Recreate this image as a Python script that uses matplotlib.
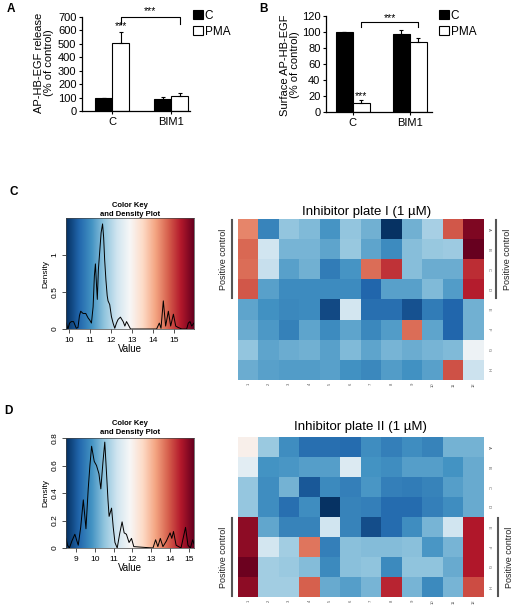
import matplotlib
matplotlib.use('Agg')
import matplotlib.pyplot as plt
import numpy as np

plt.rcParams['font.family'] = ['Liberation Sans', 'DejaVu Sans']

# ---------------- data ----------------
groups = ['C', 'BIM1']
series = ['C', 'PMA']

A_ctrl = [100, 88]
A_ctrl_err = [0, 14]
A_pma = [505, 112]
A_pma_err = [85, 24]

B_ctrl = [100, 98]
B_ctrl_err = [0, 5]
B_pma = [11, 87]
B_pma_err = [4, 5]

rows = ['A', 'B', 'C', 'D', 'E', 'F', 'G', 'H']
cols = [str(i) for i in range(1, 13)]

plate_I = [
    [14.4, 10.9, 11.7, 11.55, 11.1, 11.7, 11.45, 9.9, 11.45, 11.9, 14.8, 15.75],
    [14.65, 12.3, 11.5, 11.5, 11.3, 11.75, 11.3, 11.0, 11.6, 11.75, 11.8, 15.95],
    [14.6, 12.2, 11.25, 11.45, 10.77, 11.1, 14.6, 15.1, 11.6, 11.4, 11.4, 15.15],
    [14.8, 11.25, 11.0, 11.0, 11.0, 11.0, 10.5, 11.25, 11.25, 11.55, 11.2, 15.3],
    [11.3, 11.05, 10.95, 11.0, 10.15, 12.35, 10.6, 10.6, 10.25, 10.77, 10.5, 11.45],
    [11.4, 11.15, 10.85, 11.3, 11.0, 11.3, 10.95, 11.2, 14.6, 11.3, 10.5, 11.45],
    [11.7, 11.3, 11.4, 11.45, 11.25, 11.55, 11.3, 11.5, 11.4, 11.5, 11.55, 12.75],
    [11.4, 11.25, 11.2, 11.2, 11.25, 11.05, 10.95, 11.2, 11.05, 11.25, 14.85, 12.25],
]
plate_II = [
    [12.05, 10.6, 9.75, 9.3, 9.3, 9.25, 9.75, 9.55, 9.75, 9.6, 10.25, 10.25],
    [11.5, 9.85, 9.9, 10.0, 10.0, 11.4, 9.85, 9.75, 10.0, 10.0, 9.85, 10.15],
    [10.55, 9.75, 10.25, 9.0, 9.7, 9.55, 9.9, 9.55, 9.5, 9.6, 10.0, 10.15],
    [10.55, 9.75, 9.3, 9.75, 8.5, 9.6, 9.55, 9.25, 9.25, 9.55, 9.75, 10.15],
    [14.9, 10.1, 9.6, 9.6, 11.2, 9.6, 8.85, 9.25, 9.75, 10.3, 11.2, 14.6],
    [14.9, 11.25, 10.7, 13.7, 9.55, 10.45, 10.4, 10.4, 10.45, 9.9, 10.3, 14.6],
    [15.2, 10.7, 10.6, 10.4, 9.7, 10.45, 10.5, 9.7, 10.5, 10.5, 10.15, 14.6],
    [14.9, 10.7, 10.7, 13.9, 10.15, 10.0, 10.3, 14.45, 10.3, 9.7, 10.3, 14.1],
]
range_I = (9.86, 15.95)
range_II = (8.47, 15.27)

density_I = [(9.87, 0.08), (9.95, 0.0), (10.03, 0.08), (10.11, 0.1), (10.22, 0.1),
             (10.35, 0.01), (10.43, 0.02), (10.5, 0.18), (10.56, 0.24), (10.67, 0.21),
             (10.8, 0.21), (10.91, 0.15), (10.99, 0.12), (11.07, 0.08), (11.15, 0.3),
             (11.21, 0.72), (11.26, 0.88), (11.31, 0.6), (11.35, 0.4), (11.4, 0.8),
             (11.46, 1.03), (11.53, 1.3), (11.6, 1.42), (11.65, 1.24), (11.7, 0.93),
             (11.76, 0.66), (11.82, 0.45), (11.86, 0.38), (11.94, 0.33), (12.02, 0.17),
             (12.1, 0.08), (12.18, 0.01), (12.26, 0.08), (12.34, 0.13), (12.45, 0.16),
             (12.58, 0.1), (12.66, 0.04), (12.74, 0.1), (12.82, 0.06), (12.93, 0.0),
             (14.17, 0.0), (14.3, 0.08), (14.38, 0.01), (14.49, 0.38), (14.6, 0.04),
             (14.73, 0.24), (14.84, 0.04), (14.97, 0.2), (15.08, 0.04), (15.2, 0.02),
             (15.37, 0.0), (15.6, 0.0), (15.68, 0.08), (15.76, 0.1), (15.84, 0.04),
             (15.95, 0.08)]
density_II = [(8.47, 0.07), (8.55, 0.02), (8.65, 0.0), (8.78, 0.05), (8.94, 0.1),
              (9.12, 0.02), (9.25, 0.15), (9.39, 0.35), (9.53, 0.14), (9.65, 0.43),
              (9.74, 0.6), (9.83, 0.74), (9.97, 0.63), (10.09, 0.6), (10.22, 0.54),
              (10.32, 0.43), (10.43, 0.62), (10.53, 0.77), (10.62, 0.55), (10.7, 0.35),
              (10.76, 0.23), (10.89, 0.29), (10.98, 0.15), (11.07, 0.04), (11.19, 0.0),
              (11.33, 0.11), (11.45, 0.19), (11.56, 0.11), (11.68, 0.1), (11.82, 0.04),
              (11.95, 0.07), (12.07, 0.01), (13.09, 0.0), (13.23, 0.06), (13.35, 0.01),
              (13.48, 0.07), (13.62, 0.01), (13.8, 0.05), (14.0, 0.11), (14.09, 0.07),
              (14.18, 0.12), (14.32, 0.02), (14.58, 0.0), (14.82, 0.15), (14.95, 0.02),
              (15.08, 0.0), (15.2, 0.06), (15.27, 0.03)]

# ---------------- figure ----------------
W, H = 512, 606
fig = plt.figure(figsize=(W / 100, H / 100), dpi=100)


def px_axes(l, t, r, b):
    return fig.add_axes([l / W, 1 - b / H, (r - l) / W, (b - t) / H])


def bar_panel(ax, ctrl, cerr, pma, perr, ylim, yticks, xlim, width, legend_anchor):
    x = np.arange(len(groups))
    ekw = dict(elinewidth=0.8, capthick=0.8, ecolor='black')
    b1 = ax.bar(x - width / 2, ctrl, width, color='black', edgecolor='black', lw=0.8,
                yerr=[[0] * len(ctrl), cerr], capsize=1.5, error_kw=ekw, label=series[0])
    b2 = ax.bar(x + width / 2, pma, width, color='white', edgecolor='black', lw=0.8,
                yerr=[[0] * len(pma), perr], capsize=1.5, error_kw=ekw, label=series[1])
    ax.set_xlim(*xlim)
    ax.set_ylim(*ylim)
    ax.set_yticks(yticks)
    ax.set_xticks(x)
    ax.set_xticklabels(groups)
    for s in ['top', 'right']:
        ax.spines[s].set_visible(False)
    for s in ['left', 'bottom']:
        ax.spines[s].set_linewidth(0.9)
    ax.tick_params(length=2.5, width=0.8, labelsize=8, pad=1.5)
    ax.legend(handles=[b1, b2], loc='upper left', frameon=False, fontsize=8.5,
              bbox_to_anchor=(legend_anchor[0] / W, 1 - legend_anchor[1] / H),
              bbox_transform=fig.transFigure, borderaxespad=0, borderpad=0,
              handlelength=0.85, handleheight=0.8, handletextpad=0.15,
              labelspacing=0.3)
    return x


# Panel A
axA = px_axes(82, 17, 190, 111)
wA = 0.288
xA = bar_panel(axA, A_ctrl, A_ctrl_err, A_pma, A_pma_err, (0, 700),
               range(0, 701, 100), (-0.51, 1.32), wA, (193, 10))
axA.text(xA[0] + wA / 2, 632, '***', ha='center', va='center', fontsize=7.5)
axA.plot([xA[0] + wA / 2, xA[0] + wA / 2, xA[1] + wA / 2, xA[1] + wA / 2],
         [650, 700, 700, 650], color='black', lw=0.8, clip_on=False)
axA.text((xA[0] + xA[1]) / 2 + wA / 2, 745, '***', ha='center', va='center',
         fontsize=7.5, clip_on=False)

# Panel B
axB = px_axes(326, 16, 432, 112)
wB = 0.30
xB = bar_panel(axB, B_ctrl, B_ctrl_err, B_pma, B_pma_err, (0, 120),
               range(0, 121, 20), (-0.47, 1.39), wB, (439, 10))
axB.text(xB[0] + wB / 2, 19.5, '***', ha='center', va='center', fontsize=7.5)
axB.plot([xB[0] + wB / 2, xB[0] + wB / 2, xB[1] + wB / 2, xB[1] + wB / 2],
         [106, 112.5, 112.5, 106], color='black', lw=0.8, clip_on=False)
axB.text((xB[0] + xB[1]) / 2 + wB / 2, 117, '***', ha='center', va='center',
         fontsize=7.5, clip_on=False)


def key_panel(ax, rng, ymax, yticks, yticklabels, xticks, dens):
    xmin, xmax = rng
    grad = np.linspace(xmin, xmax, 512).reshape(1, -1)
    ax.imshow(grad, cmap='RdBu_r', aspect='auto', extent=[xmin, xmax, 0, ymax],
              vmin=xmin, vmax=xmax, origin='lower', interpolation='bilinear')
    dx = [p[0] for p in dens]
    dy = [p[1] for p in dens]
    ax.plot(dx, dy, color='black', lw=0.7)
    ax.set_xlim(xmin, xmax)
    ax.set_ylim(0, ymax)
    ax.set_xticks(xticks)
    ax.set_xticklabels([str(t) for t in xticks])
    ax.set_yticks(yticks)
    ax.set_yticklabels(yticklabels)
    for lab in ax.get_yticklabels():
        lab.set_rotation(90)
        lab.set_va('center')
    ax.tick_params(length=3, width=0.6, labelsize=6, pad=2.5, color='#333333')
    for s in ax.spines.values():
        s.set_linewidth(0.5)
        s.set_color('#444444')
    ax.set_xlabel('Value', fontsize=7, labelpad=0)
    ax.set_ylabel('Density', fontsize=6, labelpad=1.5)


axKC = px_axes(66, 218, 194, 329)
key_panel(axKC, range_I, 1.5, [0, 0.5, 1], ['0', '0.5', '1'],
          [10, 11, 12, 13, 14, 15], density_I)
axKD = px_axes(66, 438, 194, 548)
key_panel(axKD, range_II, 0.8, [0, 0.2, 0.4, 0.6, 0.8],
          ['0', '0.2', '0.4', '0.6', '0.8'], [9, 10, 11, 12, 13, 14, 15], density_II)


def heat_panel(ax, data, rng):
    ax.imshow(np.array(data), cmap='RdBu_r', vmin=rng[0], vmax=rng[1],
              aspect='auto', interpolation='nearest')
    ax.set_xticks(range(len(cols)))
    ax.set_xticklabels(cols, rotation=90, fontsize=3, color='#555555')
    ax.set_yticks(range(len(rows)))
    ax.set_yticklabels(rows, rotation=-90, fontsize=3, color='#555555', va='center')
    ax.yaxis.tick_right()
    ax.tick_params(length=0, pad=2)
    for s in ax.spines.values():
        s.set_visible(False)


axHC = px_axes(238, 219, 484, 380)
heat_panel(axHC, plate_I, range_I)
axHD = px_axes(238, 437, 484, 597)
heat_panel(axHD, plate_II, range_II)

# ---------------- overlay for annotations ----------------
ov = px_axes(0, 0, W, H)
ov.set_xlim(0, W)
ov.set_ylim(H, 0)
ov.axis('off')

for lab, (x, y) in zip(['A', 'B', 'C', 'D'], [(11, 9), (263, 9), (14, 192), (8, 411)]):
    ov.text(x, y, lab, fontsize=8.5, fontweight='bold', ha='center', va='center')

ov.text(44, 63, 'AP-HB-EGF release\n(% of control)', rotation=90, ha='center',
        va='center', fontsize=8, linespacing=1.05)
ov.text(290, 65, 'Surface AP-HB-EGF\n(% of control)', rotation=90, ha='center',
        va='center', fontsize=8, linespacing=1.05)

ov.text(130, 210, 'Color Key\nand Density Plot', ha='center', va='center',
        fontsize=5.5, fontweight='bold', linespacing=1.3)
ov.text(130, 428, 'Color Key\nand Density Plot', ha='center', va='center',
        fontsize=5.5, fontweight='bold', linespacing=1.3)

ov.text(367, 212, 'Inhibitor plate I (1 \u00b5M)', ha='center', va='center', fontsize=9.5)
ov.text(360, 427, 'Inhibitor plate II (1 \u00b5M)', ha='center', va='center', fontsize=9.5)

bracket_color = '#555555'
for (xl, xr, y0, y1) in [(232, 496, 220, 298), (232, 498, 518, 596)]:
    ov.plot([xl, xl], [y0, y1], color=bracket_color, lw=1.5)
    ov.plot([xr, xr], [y0, y1], color=bracket_color, lw=1.5)
    yc = (y0 + y1) / 2
    ov.text(xl - 9, yc, 'Positive control', rotation=90, ha='center', va='center',
            fontsize=6.5, color='#222222')
    ov.text(xr + 11, yc, 'Positive control', rotation=90, ha='center', va='center',
            fontsize=6.5, color='#222222')

fig.savefig('out.png', dpi=100)
